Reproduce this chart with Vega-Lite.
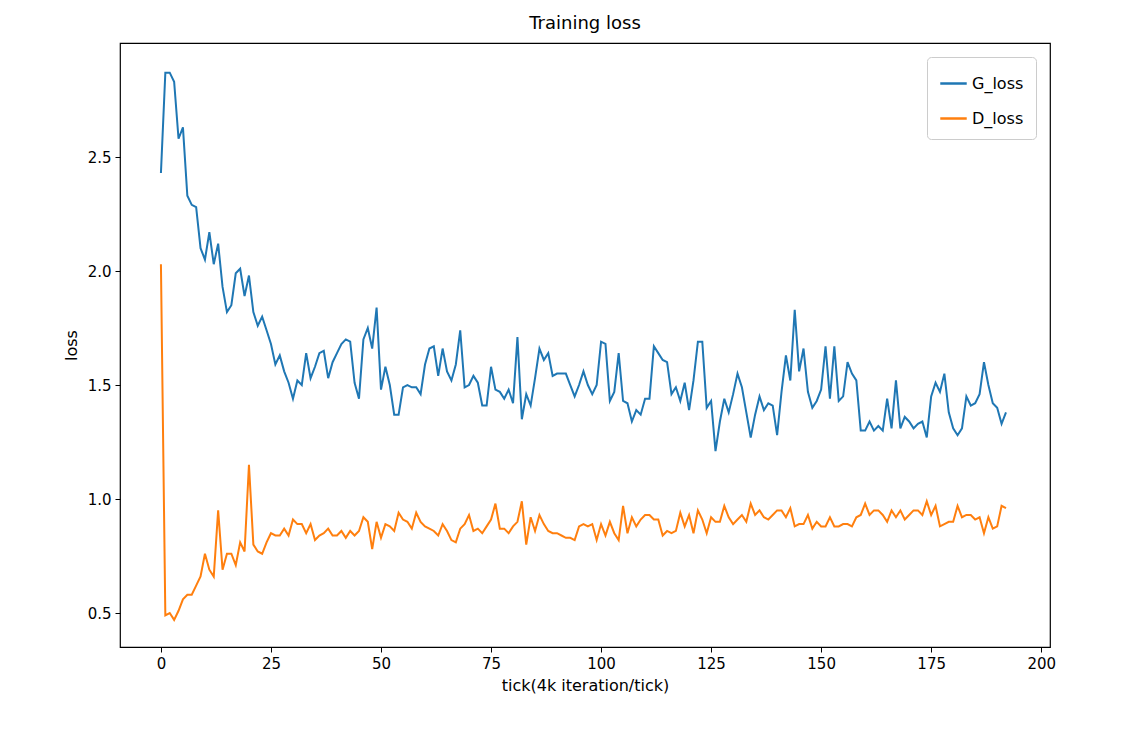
{
"$schema":"https://vega.github.io/schema/vega-lite/v6.json",
"width":930,"height":604,
"autosize":{"type":"none"},
"padding":{"left":120,"top":43,"right":87,"bottom":103},
"config":{"font":"DejaVu Sans","view":{"stroke":"black","strokeWidth":1.2}},
"title":{"text":"Training loss","fontSize":18,"fontWeight":"normal","offset":10,"color":"black","anchor":"middle"},
"data":{"values":[
{"t":0,"G_loss":2.43,"D_loss":2.03},{"t":1,"G_loss":2.87,"D_loss":0.49},{"t":2,"G_loss":2.87,"D_loss":0.50},{"t":3,"G_loss":2.83,"D_loss":0.47},{"t":4,"G_loss":2.58,"D_loss":0.51},{"t":5,"G_loss":2.63,"D_loss":0.56},{"t":6,"G_loss":2.33,"D_loss":0.58},{"t":7,"G_loss":2.29,"D_loss":0.58},{"t":8,"G_loss":2.28,"D_loss":0.62},{"t":9,"G_loss":2.10,"D_loss":0.66},
{"t":10,"G_loss":2.05,"D_loss":0.76},{"t":11,"G_loss":2.17,"D_loss":0.69},{"t":12,"G_loss":2.03,"D_loss":0.66},{"t":13,"G_loss":2.12,"D_loss":0.95},{"t":14,"G_loss":1.93,"D_loss":0.69},{"t":15,"G_loss":1.82,"D_loss":0.76},{"t":16,"G_loss":1.85,"D_loss":0.76},{"t":17,"G_loss":1.99,"D_loss":0.71},{"t":18,"G_loss":2.01,"D_loss":0.81},{"t":19,"G_loss":1.89,"D_loss":0.77},
{"t":20,"G_loss":1.98,"D_loss":1.15},{"t":21,"G_loss":1.82,"D_loss":0.80},{"t":22,"G_loss":1.76,"D_loss":0.77},{"t":23,"G_loss":1.80,"D_loss":0.76},{"t":24,"G_loss":1.74,"D_loss":0.81},{"t":25,"G_loss":1.68,"D_loss":0.85},{"t":26,"G_loss":1.59,"D_loss":0.84},{"t":27,"G_loss":1.63,"D_loss":0.84},{"t":28,"G_loss":1.56,"D_loss":0.87},{"t":29,"G_loss":1.51,"D_loss":0.84},
{"t":30,"G_loss":1.44,"D_loss":0.91},{"t":31,"G_loss":1.52,"D_loss":0.89},{"t":32,"G_loss":1.50,"D_loss":0.89},{"t":33,"G_loss":1.64,"D_loss":0.85},{"t":34,"G_loss":1.53,"D_loss":0.89},{"t":35,"G_loss":1.58,"D_loss":0.82},{"t":36,"G_loss":1.64,"D_loss":0.84},{"t":37,"G_loss":1.65,"D_loss":0.85},{"t":38,"G_loss":1.53,"D_loss":0.87},{"t":39,"G_loss":1.60,"D_loss":0.84},
{"t":40,"G_loss":1.64,"D_loss":0.84},{"t":41,"G_loss":1.68,"D_loss":0.86},{"t":42,"G_loss":1.70,"D_loss":0.83},{"t":43,"G_loss":1.69,"D_loss":0.86},{"t":44,"G_loss":1.51,"D_loss":0.84},{"t":45,"G_loss":1.44,"D_loss":0.86},{"t":46,"G_loss":1.70,"D_loss":0.92},{"t":47,"G_loss":1.75,"D_loss":0.90},{"t":48,"G_loss":1.66,"D_loss":0.78},{"t":49,"G_loss":1.84,"D_loss":0.90},
{"t":50,"G_loss":1.48,"D_loss":0.83},{"t":51,"G_loss":1.58,"D_loss":0.89},{"t":52,"G_loss":1.50,"D_loss":0.88},{"t":53,"G_loss":1.37,"D_loss":0.86},{"t":54,"G_loss":1.37,"D_loss":0.94},{"t":55,"G_loss":1.49,"D_loss":0.91},{"t":56,"G_loss":1.50,"D_loss":0.90},{"t":57,"G_loss":1.49,"D_loss":0.87},{"t":58,"G_loss":1.49,"D_loss":0.94},{"t":59,"G_loss":1.46,"D_loss":0.90},
{"t":60,"G_loss":1.59,"D_loss":0.88},{"t":61,"G_loss":1.66,"D_loss":0.87},{"t":62,"G_loss":1.67,"D_loss":0.86},{"t":63,"G_loss":1.54,"D_loss":0.84},{"t":64,"G_loss":1.66,"D_loss":0.89},{"t":65,"G_loss":1.56,"D_loss":0.86},{"t":66,"G_loss":1.52,"D_loss":0.82},{"t":67,"G_loss":1.59,"D_loss":0.81},{"t":68,"G_loss":1.74,"D_loss":0.87},{"t":69,"G_loss":1.49,"D_loss":0.89},
{"t":70,"G_loss":1.50,"D_loss":0.93},{"t":71,"G_loss":1.54,"D_loss":0.86},{"t":72,"G_loss":1.51,"D_loss":0.87},{"t":73,"G_loss":1.41,"D_loss":0.85},{"t":74,"G_loss":1.41,"D_loss":0.88},{"t":75,"G_loss":1.58,"D_loss":0.91},{"t":76,"G_loss":1.48,"D_loss":0.98},{"t":77,"G_loss":1.47,"D_loss":0.87},{"t":78,"G_loss":1.44,"D_loss":0.87},{"t":79,"G_loss":1.48,"D_loss":0.85},
{"t":80,"G_loss":1.42,"D_loss":0.88},{"t":81,"G_loss":1.71,"D_loss":0.90},{"t":82,"G_loss":1.35,"D_loss":0.99},{"t":83,"G_loss":1.46,"D_loss":0.80},{"t":84,"G_loss":1.41,"D_loss":0.92},{"t":85,"G_loss":1.53,"D_loss":0.86},{"t":86,"G_loss":1.66,"D_loss":0.93},{"t":87,"G_loss":1.61,"D_loss":0.89},{"t":88,"G_loss":1.64,"D_loss":0.86},{"t":89,"G_loss":1.54,"D_loss":0.85},
{"t":90,"G_loss":1.55,"D_loss":0.85},{"t":91,"G_loss":1.55,"D_loss":0.84},{"t":92,"G_loss":1.55,"D_loss":0.83},{"t":93,"G_loss":1.50,"D_loss":0.83},{"t":94,"G_loss":1.45,"D_loss":0.82},{"t":95,"G_loss":1.50,"D_loss":0.88},{"t":96,"G_loss":1.56,"D_loss":0.89},{"t":97,"G_loss":1.50,"D_loss":0.88},{"t":98,"G_loss":1.46,"D_loss":0.89},{"t":99,"G_loss":1.50,"D_loss":0.82},
{"t":100,"G_loss":1.69,"D_loss":0.89},{"t":101,"G_loss":1.68,"D_loss":0.84},{"t":102,"G_loss":1.43,"D_loss":0.90},{"t":103,"G_loss":1.47,"D_loss":0.85},{"t":104,"G_loss":1.64,"D_loss":0.82},{"t":105,"G_loss":1.43,"D_loss":0.97},{"t":106,"G_loss":1.42,"D_loss":0.85},{"t":107,"G_loss":1.34,"D_loss":0.92},{"t":108,"G_loss":1.39,"D_loss":0.88},{"t":109,"G_loss":1.37,"D_loss":0.91},
{"t":110,"G_loss":1.44,"D_loss":0.93},{"t":111,"G_loss":1.44,"D_loss":0.93},{"t":112,"G_loss":1.67,"D_loss":0.91},{"t":113,"G_loss":1.64,"D_loss":0.91},{"t":114,"G_loss":1.61,"D_loss":0.84},{"t":115,"G_loss":1.60,"D_loss":0.86},{"t":116,"G_loss":1.46,"D_loss":0.85},{"t":117,"G_loss":1.49,"D_loss":0.86},{"t":118,"G_loss":1.43,"D_loss":0.94},{"t":119,"G_loss":1.51,"D_loss":0.88},
{"t":120,"G_loss":1.39,"D_loss":0.93},{"t":121,"G_loss":1.52,"D_loss":0.85},{"t":122,"G_loss":1.69,"D_loss":0.95},{"t":123,"G_loss":1.69,"D_loss":0.91},{"t":124,"G_loss":1.40,"D_loss":0.85},{"t":125,"G_loss":1.43,"D_loss":0.92},{"t":126,"G_loss":1.21,"D_loss":0.90},{"t":127,"G_loss":1.34,"D_loss":0.90},{"t":128,"G_loss":1.44,"D_loss":0.97},{"t":129,"G_loss":1.38,"D_loss":0.92},
{"t":130,"G_loss":1.46,"D_loss":0.89},{"t":131,"G_loss":1.55,"D_loss":0.91},{"t":132,"G_loss":1.49,"D_loss":0.93},{"t":133,"G_loss":1.38,"D_loss":0.90},{"t":134,"G_loss":1.27,"D_loss":0.98},{"t":135,"G_loss":1.37,"D_loss":0.93},{"t":136,"G_loss":1.45,"D_loss":0.95},{"t":137,"G_loss":1.39,"D_loss":0.92},{"t":138,"G_loss":1.42,"D_loss":0.91},{"t":139,"G_loss":1.41,"D_loss":0.93},
{"t":140,"G_loss":1.28,"D_loss":0.95},{"t":141,"G_loss":1.47,"D_loss":0.95},{"t":142,"G_loss":1.63,"D_loss":0.92},{"t":143,"G_loss":1.52,"D_loss":0.96},{"t":144,"G_loss":1.83,"D_loss":0.88},{"t":145,"G_loss":1.56,"D_loss":0.89},{"t":146,"G_loss":1.66,"D_loss":0.89},{"t":147,"G_loss":1.47,"D_loss":0.93},{"t":148,"G_loss":1.40,"D_loss":0.87},{"t":149,"G_loss":1.43,"D_loss":0.90},
{"t":150,"G_loss":1.48,"D_loss":0.88},{"t":151,"G_loss":1.67,"D_loss":0.88},{"t":152,"G_loss":1.44,"D_loss":0.92},{"t":153,"G_loss":1.67,"D_loss":0.88},{"t":154,"G_loss":1.43,"D_loss":0.88},{"t":155,"G_loss":1.45,"D_loss":0.89},{"t":156,"G_loss":1.60,"D_loss":0.89},{"t":157,"G_loss":1.55,"D_loss":0.88},{"t":158,"G_loss":1.52,"D_loss":0.92},{"t":159,"G_loss":1.30,"D_loss":0.93},
{"t":160,"G_loss":1.30,"D_loss":0.98},{"t":161,"G_loss":1.34,"D_loss":0.93},{"t":162,"G_loss":1.30,"D_loss":0.95},{"t":163,"G_loss":1.32,"D_loss":0.95},{"t":164,"G_loss":1.30,"D_loss":0.93},{"t":165,"G_loss":1.44,"D_loss":0.90},{"t":166,"G_loss":1.31,"D_loss":0.95},{"t":167,"G_loss":1.52,"D_loss":0.92},{"t":168,"G_loss":1.31,"D_loss":0.95},{"t":169,"G_loss":1.36,"D_loss":0.91},
{"t":170,"G_loss":1.34,"D_loss":0.93},{"t":171,"G_loss":1.31,"D_loss":0.95},{"t":172,"G_loss":1.33,"D_loss":0.95},{"t":173,"G_loss":1.34,"D_loss":0.93},{"t":174,"G_loss":1.27,"D_loss":0.99},{"t":175,"G_loss":1.45,"D_loss":0.93},{"t":176,"G_loss":1.51,"D_loss":0.97},{"t":177,"G_loss":1.47,"D_loss":0.88},{"t":178,"G_loss":1.55,"D_loss":0.89},{"t":179,"G_loss":1.38,"D_loss":0.90},
{"t":180,"G_loss":1.31,"D_loss":0.90},{"t":181,"G_loss":1.28,"D_loss":0.97},{"t":182,"G_loss":1.31,"D_loss":0.92},{"t":183,"G_loss":1.45,"D_loss":0.93},{"t":184,"G_loss":1.41,"D_loss":0.93},{"t":185,"G_loss":1.42,"D_loss":0.91},{"t":186,"G_loss":1.46,"D_loss":0.92},{"t":187,"G_loss":1.60,"D_loss":0.85},{"t":188,"G_loss":1.50,"D_loss":0.92},{"t":189,"G_loss":1.42,"D_loss":0.87},
{"t":190,"G_loss":1.40,"D_loss":0.88},{"t":191,"G_loss":1.33,"D_loss":0.97},{"t":192,"G_loss":1.38,"D_loss":0.96}
]},
"transform":[{"fold":["G_loss","D_loss"],"as":["series","loss"]}],
"mark":{"type":"line","strokeWidth":2,"clip":true},
"encoding":{
 "x":{"field":"t","type":"quantitative","scale":{"domain":[-9.3,202],"nice":false,"zero":false},
  "axis":{"values":[0,25,50,75,100,125,150,175,200],"title":"tick(4k iteration/tick)","grid":false,"domain":false,"tickColor":"black","tickSize":5,"labelFontSize":15,"labelColor":"black","titleFontSize":16,"titleFontWeight":"normal","titleColor":"black","labelPadding":4,"titlePadding":6}},
 "y":{"field":"loss","type":"quantitative","scale":{"domain":[0.351,3.0],"nice":false,"zero":false},
  "axis":{"values":[0.5,1.0,1.5,2.0,2.5],"format":".1f","title":"loss","grid":false,"domain":false,"tickColor":"black","tickSize":5,"labelFontSize":15,"labelColor":"black","titleFontSize":16,"titleFontWeight":"normal","titleColor":"black","labelPadding":4,"titlePadding":8}},
 "color":{"field":"series","type":"nominal","scale":{"domain":["G_loss","D_loss"],"range":["#1f77b4","#ff7f0e"]},
  "legend":{"title":null,"orient":"top-right","offset":14,"symbolType":"stroke","symbolStrokeWidth":2.5,"symbolSize":700,"labelFontSize":16,"labelColor":"black","strokeColor":"#cccccc","fillColor":"white","padding":12,"cornerRadius":4,"rowPadding":12}},
 "order":{"field":"t","type":"quantitative"}
}
}
